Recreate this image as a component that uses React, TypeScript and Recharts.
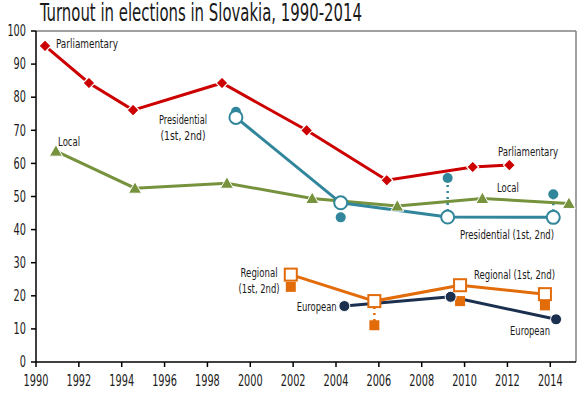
/** Turnout in elections in Slovakia 1990-2014. Open markers = 1st round,
 *  filled = 2nd round; dotted stems join the two rounds when they sit apart. */
import {
  ComposedChart,
  Line,
  ReferenceDot,
  ReferenceLine,
  Scatter,
  XAxis,
  YAxis,
} from "recharts";

const FONT = "'Liberation Sans Narrow', 'DejaVu Sans Condensed', Arial, sans-serif";

const RED = "#CC0000";
const GREEN = "#76923C";
const TEAL = "#31869B";
const ORANGE = "#E26B0A";
const NAVY = "#1B2F4F";

const xTicks = [1990, 1992, 1994, 1996, 1998, 2000, 2002, 2004, 2006, 2008, 2010, 2012, 2014];
const yTicks = [0, 10, 20, 30, 40, 50, 60, 70, 80, 90, 100];

const parlYears = [1990.42, 1992.47, 1994.53, 1998.68, 2002.63, 2006.37, 2010.38, 2012.09];
const parlTurnout = [95.5, 84.3, 76.1, 84.3, 70.0, 54.9, 58.9, 59.5];

const localYears = [1990.93, 1994.62, 1998.91, 2002.89, 2006.86, 2010.83, 2014.87];
const localTurnout = [63.7, 52.5, 54.0, 49.4, 47.1, 49.4, 47.9];

const presYears = [1999.33, 2004.22, 2009.21, 2014.14];
const presFirst = [73.9, 48.1, 43.8, 43.7];
const presSecond = [75.6, 43.7, 55.6, 50.7];

const regYears = [2001.89, 2005.79, 2009.79, 2013.75];
const regFirst = [26.4, 18.4, 23.2, 20.5];
const regSecond = [22.7, 11.1, 18.4, 17.1];

const euroYears = [2004.39, 2009.35, 2014.27];
const euroTurnout = [16.9, 19.7, 12.9];

// annotation anchors (chart units) and their printed widths (px)
const labels = [
  { text: "Parliamentary", x: 1990.93, y: 96.1, anchor: "start", w: 62 },
  { text: "Parliamentary", x: 2011.56, y: 63.4, anchor: "start", w: 60 },
  { text: "Local", x: 1991.03, y: 66.4, anchor: "start", w: 22 },
  { text: "Local", x: 2011.51, y: 52.5, anchor: "start", w: 22 },
  { text: "Presidential", x: 1996.86, y: 73.1, anchor: "middle", w: 48 },
  { text: "(1st, 2nd)", x: 1996.86, y: 68.2, anchor: "middle", w: 45 },
  { text: "Presidential (1st, 2nd)", x: 2009.79, y: 38.3, anchor: "start", w: 94 },
  { text: "Regional", x: 2000.41, y: 26.8, anchor: "middle", w: 37 },
  { text: "(1st, 2nd)", x: 2000.41, y: 22.0, anchor: "middle", w: 41 },
  { text: "European", x: 2004.03, y: 16.6, anchor: "end", w: 40 },
  { text: "Regional (1st, 2nd)", x: 2010.44, y: 26.2, anchor: "start", w: 81 },
  { text: "European", x: 2012.12, y: 9.4, anchor: "start", w: 40 },
];

const rows = (years: number[], values: number[]) =>
  years.map((year, i) => ({ year, v: values[i] }));

const parl = rows(parlYears, parlTurnout);
const local = rows(localYears, localTurnout);
const pres1 = rows(presYears, presFirst);
const pres2 = rows(presYears, presSecond);
const reg1 = rows(regYears, regFirst);
const reg2 = rows(regYears, regSecond);
const euro = rows(euroYears, euroTurnout);

const stems = [
  ...presYears.map((x, i) => ({ x, a: presFirst[i], b: presSecond[i], color: TEAL })),
  ...regYears.map((x, i) => ({ x, a: regFirst[i], b: regSecond[i], color: ORANGE })),
].filter((s) => Math.abs(s.a - s.b) > 5);

const Diamond = (p: any) => {
  const { cx, cy } = p;
  if (cx == null || cy == null) return null;
  const r = 6;
  return (
    <path
      key={`d${cx}`}
      d={`M${cx},${cy - r}L${cx + r},${cy}L${cx},${cy + r}L${cx - r},${cy}Z`}
      fill={RED}
      stroke="#fff"
      strokeWidth={1.2}
    />
  );
};

const Triangle = (p: any) => {
  const { cx, cy } = p;
  if (cx == null || cy == null) return null;
  return (
    <path
      key={`t${cx}`}
      d={`M${cx},${cy - 6.5}L${cx + 6.5},${cy + 5}L${cx - 6.5},${cy + 5}Z`}
      fill={GREEN}
      stroke="#fff"
      strokeWidth={1}
    />
  );
};

const OpenSquare = (p: any) => {
  const { cx, cy } = p;
  if (cx == null || cy == null) return null;
  return (
    <rect key={`s${cx}`} x={cx - 6} y={cy - 6} width={12} height={12} fill="#fff" stroke={ORANGE} strokeWidth={2} />
  );
};

const FilledSquare = (p: any) => {
  const { cx, cy } = p;
  return <rect x={cx - 5} y={cy - 5} width={10} height={10} fill={ORANGE} />;
};

const TealDot = (p: any) => <circle cx={p.cx} cy={p.cy} r={5} fill={TEAL} />;

const NavyDot = (p: any) => {
  const { cx, cy } = p;
  if (cx == null || cy == null) return null;
  return <circle key={`e${cx}`} cx={cx} cy={cy} r={5.5} fill={NAVY} stroke="#fff" strokeWidth={1} />;
};

// tick text squeezed to look like the condensed face of the original
const NarrowTick = (p: any) => {
  const { x, y, payload, textAnchor, vertical } = p;
  const w = String(payload.value).length * 6.2;
  return (
    <text
      x={x}
      y={y}
      dy={vertical ? "0.35em" : "0.75em"}
      textAnchor={textAnchor}
      fontFamily={FONT}
      fontSize={15}
      fill="#1a1a1a"
      textLength={w}
      lengthAdjust="spacingAndGlyphs"
    >
      {payload.value}
    </text>
  );
};

export default function App() {
  return (
    <div style={{ position: "absolute", left: 0, top: 0, width: 582, height: 397, background: "#fff" }}>
      <svg width={582} height={30} style={{ position: "absolute", left: 0, top: 0 }}>
        <text
          x={40}
          y={21}
          fontFamily={FONT}
          fontSize={24}
          fill="#1a1a1a"
          textLength={322}
          lengthAdjust="spacingAndGlyphs"
        >
          Turnout in elections in Slovakia, 1990-2014
        </text>
      </svg>
      <ComposedChart
        width={582}
        height={397}
        margin={{ top: 31, right: 6, bottom: 0, left: 0 }}
        style={{ position: "absolute", left: 0, top: 0 }}
      >
        <XAxis
          dataKey="year"
          type="number"
          domain={[1990, 2015.2]}
          ticks={xTicks}
          interval={0}
          height={35}
          stroke="#000"
          strokeWidth={1.5}
          tickSize={5}
          tickMargin={8}
          tick={<NarrowTick />}
        />
        <YAxis
          dataKey="v"
          type="number"
          domain={[0, 100]}
          ticks={yTicks}
          interval={0}
          width={36}
          stroke="#000"
          strokeWidth={1.5}
          tickSize={5}
          tickMargin={5}
          tick={<NarrowTick vertical />}
        />
        <ReferenceLine y={100} stroke="#808080" strokeWidth={1.5} />
        <ReferenceLine x={2015.2} stroke="#808080" strokeWidth={1.5} />

        {stems.map((s, i) => (
          <ReferenceLine
            key={`stem${i}`}
            segment={[
              { x: s.x, y: s.a },
              { x: s.x, y: s.b },
            ]}
            stroke={s.color}
            strokeWidth={2.5}
            strokeDasharray="2 4"
          />
        ))}

        <Scatter data={pres2} dataKey="v" shape={TealDot} isAnimationActive={false} />
        <Scatter data={reg2} dataKey="v" shape={FilledSquare} isAnimationActive={false} />

        <Line data={parl} dataKey="v" stroke={RED} strokeWidth={3} dot={Diamond} activeDot={false} isAnimationActive={false} />
        <Line data={local} dataKey="v" stroke={GREEN} strokeWidth={3} dot={Triangle} activeDot={false} isAnimationActive={false} />
        <Line
          data={pres1}
          dataKey="v"
          stroke={TEAL}
          strokeWidth={3}
          dot={{ r: 6.5, fill: "#fff", stroke: TEAL, strokeWidth: 2 }}
          activeDot={false}
          isAnimationActive={false}
        />
        <Line data={euro} dataKey="v" stroke={NAVY} strokeWidth={3} dot={NavyDot} activeDot={false} isAnimationActive={false} />
        <Line data={reg1} dataKey="v" stroke={ORANGE} strokeWidth={3} dot={OpenSquare} activeDot={false} isAnimationActive={false} />

        {labels.map((l, i) => (
          <ReferenceDot
            key={`lbl${i}`}
            x={l.x}
            y={l.y}
            r={0}
            fill="none"
            stroke="none"
            label={{
              content: (props: any) => {
                const vb = props.viewBox || {};
                return (
                  <text
                    x={vb.x}
                    y={vb.y}
                    textAnchor={l.anchor}
                    dominantBaseline="central"
                    fontFamily={FONT}
                    fontSize={12}
                    fill="#1a1a1a"
                    textLength={l.w}
                    lengthAdjust="spacingAndGlyphs"
                  >
                    {l.text}
                  </text>
                );
              },
            }}
          />
        ))}
      </ComposedChart>
    </div>
  );
}
